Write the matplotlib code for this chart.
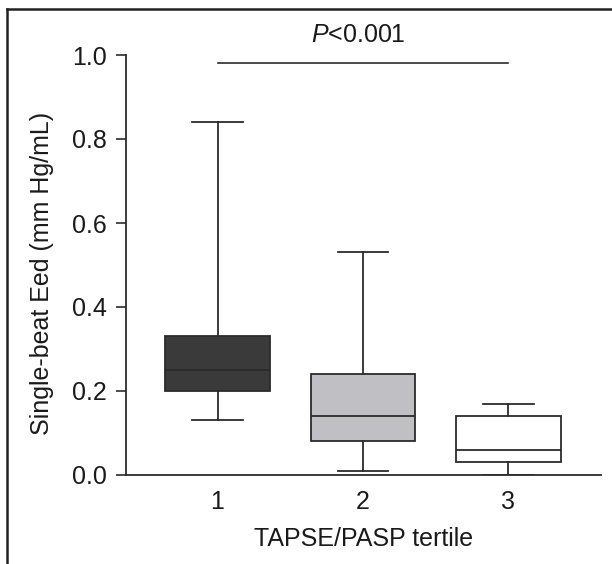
import matplotlib
matplotlib.use("Agg")
import matplotlib.pyplot as plt
from matplotlib.lines import Line2D

plt.rcParams['font.family'] = ['Liberation Sans', 'DejaVu Sans']
plt.rcParams['mathtext.fontset'] = 'custom'
plt.rcParams['mathtext.rm'] = 'Liberation Sans'
plt.rcParams['mathtext.it'] = 'Liberation Sans:italic'

# Data
categories = ["1", "2", "3"]
whisker_low = [0.13, 0.01, 0.00]
q1 = [0.20, 0.08, 0.03]
median = [0.25, 0.14, 0.06]
q3 = [0.33, 0.24, 0.14]
whisker_high = [0.84, 0.53, 0.17]
box_colors = ["#3a3a3a", "#c0c0c4", "#ffffff"]
y_ticks = [0.0, 0.2, 0.4, 0.6, 0.8, 1.0]
p_text = "$\\it{P}$<0.001"
p_line_y = 0.98

FS = 18
fig = plt.figure(figsize=(6.12, 5.64), dpi=100)
ax = fig.add_axes([126/612, 1-475/564, (601-126)/612, (475-55)/564])

stats = []
for i, c in enumerate(categories):
    stats.append(dict(label=c, whislo=whisker_low[i], q1=q1[i], med=median[i],
                      q3=q3[i], whishi=whisker_high[i], fliers=[]))

lc = "#2b2b2b"
bp = ax.bxp(stats, positions=[1, 2, 3], widths=0.72, patch_artist=True,
            showfliers=False,
            boxprops=dict(linewidth=1.3, edgecolor=lc),
            medianprops=dict(color=lc, linewidth=1.3),
            whiskerprops=dict(color=lc, linewidth=1.3),
            capprops=dict(color=lc, linewidth=1.3),
            capwidths=0.35)
for patch, col in zip(bp['boxes'], box_colors):
    patch.set_facecolor(col)

ax.set_xlim(0.371, 3.636)
ax.set_ylim(0, 1.0)
ax.set_yticks(y_ticks)
ax.set_yticklabels([f"{t:.1f}" for t in y_ticks])
ax.tick_params(axis='y', direction='out', length=7, width=1.2, color=lc,
               labelsize=FS, pad=7, labelcolor="#1a1a1a")
ax.tick_params(axis='x', length=0, labelsize=FS, pad=11, labelcolor="#1a1a1a")
for s in ['top', 'right']:
    ax.spines[s].set_visible(False)
for s in ['left', 'bottom']:
    ax.spines[s].set_linewidth(1.3)
    ax.spines[s].set_color(lc)
ax.spines['left'].set_bounds(0, 1.0)

ax.set_ylabel("Single-beat Eed (mm Hg/mL)", fontsize=FS, color="#1a1a1a")
ax.yaxis.set_label_coords(-0.152, 0.481)
ax.set_xlabel("TAPSE/PASP tertile", fontsize=FS, color="#1a1a1a", labelpad=9)

ax.plot([1, 3], [p_line_y, p_line_y], color=lc, linewidth=1.2, clip_on=False)
ax.text(1.966, 1.048, p_text, ha='center', va='center', fontsize=FS,
        color="#1a1a1a", clip_on=False)

# outer frame (left and top)
fig.add_artist(Line2D([7/612, 7/612], [0, 1-9/564], transform=fig.transFigure,
                      color="#222222", linewidth=1.8))
fig.add_artist(Line2D([7/612, 1], [1-9/564, 1-9/564], transform=fig.transFigure,
                      color="#222222", linewidth=1.8))

fig.savefig("out.png", dpi=100)
